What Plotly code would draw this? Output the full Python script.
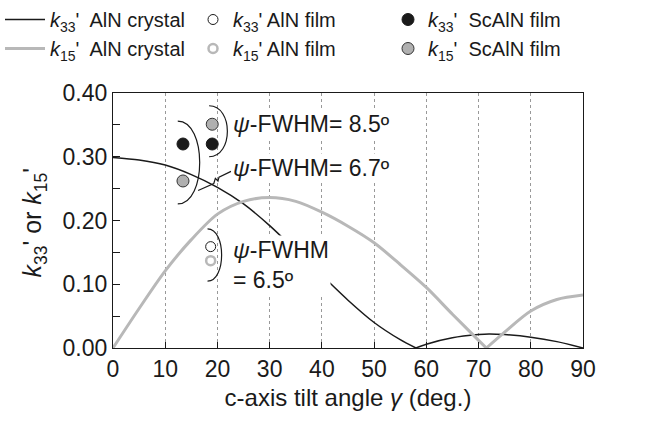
import plotly.graph_objects as go

# Bulk-crystal curves (c-axis tilt angle in degrees)
k33_angle = [0, 5, 10, 15, 20, 25, 30, 35, 40, 45, 50, 55, 58, 60, 65, 70, 72, 75, 80, 85, 90]
k33_crystal = [0.299, 0.295, 0.287, 0.272, 0.252, 0.226, 0.192, 0.153, 0.114, 0.075,
               0.040, 0.013, 0.0, 0.006, 0.016, 0.021, 0.022, 0.021, 0.017, 0.010, 0.0]

k15_angle = [0, 5, 10, 15, 20, 25, 30, 35, 40, 45, 50, 55, 60, 65, 70, 71.5, 75, 80, 85, 90]
k15_crystal = [0.0, 0.062, 0.121, 0.170, 0.210, 0.230, 0.236, 0.230, 0.213, 0.191,
               0.165, 0.131, 0.095, 0.053, 0.012, 0.0, 0.025, 0.058, 0.076, 0.083]

# Measured films
aln_film_angle = [18.7]
aln_film_k33 = [0.159]
aln_film_k15 = [0.137]

scaln_k33_angle = [13.4, 19.0]
scaln_k33 = [0.320, 0.320]
scaln_k15_angle = [19.0, 13.4]
scaln_k15 = [0.351, 0.262]

FONT = "Liberation Sans, Arial, Helvetica, sans-serif"
BLACK = "#1a1a1a"
GRAY_LINE = "#b8b8b8"
GRAY_FILL = "#b0b0b0"


def split_at_zeros(xs, ys):
    """Break a curve at its interior zeros so each lobe is smoothed on its own."""
    ox, oy = [], []
    for i, (x, y) in enumerate(zip(xs, ys)):
        ox.append(x)
        oy.append(y)
        if y == 0 and 0 < i < len(xs) - 1:
            ox += [None, x]
            oy += [None, y]
    return ox, oy


fig = go.Figure()

x33, y33 = split_at_zeros(k33_angle, k33_crystal)
x15, y15 = split_at_zeros(k15_angle, k15_crystal)

# column 1 of the key: crystal curves
fig.add_trace(go.Scatter(x=x33, y=y33, mode="lines", connectgaps=False, legend="legend",
                         line=dict(color=BLACK, width=1.5, shape="spline", smoothing=0.8),
                         name="<i>k</i><sub>33</sub>'  AlN crystal"))
fig.add_trace(go.Scatter(x=x15, y=y15, mode="lines", connectgaps=False, legend="legend",
                         line=dict(color=GRAY_LINE, width=3, shape="spline", smoothing=0.8),
                         name="<i>k</i><sub>15</sub>'  AlN crystal"))
# column 2: AlN films
fig.add_trace(go.Scatter(x=aln_film_angle, y=aln_film_k33, mode="markers", legend="legend2",
                         marker=dict(symbol="circle-open", size=10, color=BLACK, line=dict(width=1)),
                         name="<i>k</i><sub>33</sub>' AlN film"))
fig.add_trace(go.Scatter(x=aln_film_angle, y=aln_film_k15, mode="markers", legend="legend2",
                         marker=dict(symbol="circle-open", size=9, color=GRAY_LINE, line=dict(width=2.5)),
                         name="<i>k</i><sub>15</sub>' AlN film"))
# column 3: ScAlN films
fig.add_trace(go.Scatter(x=scaln_k33_angle, y=scaln_k33, mode="markers", legend="legend3",
                         marker=dict(symbol="circle", size=12, color=BLACK, line=dict(width=1, color=BLACK)),
                         name="<i>k</i><sub>33</sub>'  ScAlN film"))
fig.add_trace(go.Scatter(x=scaln_k15_angle, y=scaln_k15, mode="markers", legend="legend3",
                         marker=dict(symbol="circle", size=12, color=GRAY_FILL, line=dict(width=1, color="#333333")),
                         name="<i>k</i><sub>15</sub>'  ScAlN film"))


def bracket(x_end, y_top, y_bot, bulge):
    """')'-shaped bracket in data coordinates: ends at x_end, widest at x=bulge."""
    c = (bulge - x_end / 4) / 0.75
    return f"M {x_end},{y_top} C {c},{y_top} {c},{y_bot} {x_end},{y_bot}"


line_style = dict(color=BLACK, width=1.2)
shapes = [
    # ScAlN film pair at ~19 deg
    dict(type="path", xref="x", yref="y", line=line_style, path=bracket(18.4, 0.380, 0.300, 21.9)),
    # ScAlN film pair at ~13 deg
    dict(type="path", xref="x", yref="y", line=line_style, path=bracket(12.4, 0.356, 0.226, 16.6)),
    # AlN film pair
    dict(type="path", xref="x", yref="y", line=line_style, path=bracket(18.1, 0.187, 0.105, 20.8)),
    # leader with a small break mark from the 13-deg bracket to its label
    dict(type="path", xref="x", yref="y", line=line_style,
         path="M 16.3,0.247 L 19.3,0.258 L 19.6,0.266 L 20.1,0.262 L 20.3,0.268 L 22.6,0.277"),
]

ann_font = dict(family=FONT, size=23, color=BLACK)
annotations = [
    dict(x=22.6, y=0.352, xref="x", yref="y", xanchor="left", yanchor="middle",
         text="<i>ψ</i>-FWHM= 8.5º", showarrow=False, font=ann_font,
         bgcolor="white", borderpad=1),
    dict(x=22.6, y=0.282, xref="x", yref="y", xanchor="left", yanchor="middle",
         text="<i>ψ</i>-FWHM= 6.7º", showarrow=False, font=ann_font,
         bgcolor="white", borderpad=1),
    dict(x=22.6, y=0.130, xref="x", yref="y", xanchor="left", yanchor="middle",
         text="<i>ψ</i>-FWHM<br>= 6.5º", showarrow=False, font=ann_font, align="left",
         bgcolor="white", borderpad=1),
    # y-axis title
    dict(x=-0.167, y=0.49, xref="paper", yref="paper", xanchor="center", yanchor="middle",
         text="<i>k</i><sub>33</sub>' or <i>k</i><sub>15</sub>'", textangle=-90, showarrow=False,
         font=dict(family=FONT, size=25, color=BLACK)),
]

legend_common = dict(orientation="v", xref="container", yref="container", yanchor="top",
                     xanchor="left", y=1.0, font=dict(family=FONT, size=20, color=BLACK),
                     tracegroupgap=0, bgcolor="rgba(0,0,0,0)", borderwidth=0)

fig.update_layout(
    width=668, height=421,
    margin=dict(l=113, r=85, t=93, b=73, autoexpand=False),
    paper_bgcolor="white", plot_bgcolor="white",
    font=dict(family=FONT, size=22, color=BLACK),
    shapes=shapes,
    annotations=annotations,
    showlegend=True,
    legend=dict(legend_common, x=0.0, itemwidth=40),
    legend2=dict(legend_common, x=193 / 668, itemwidth=30),
    legend3=dict(legend_common, x=388 / 668, itemwidth=30),
)

fig.update_xaxes(
    range=[0, 90], dtick=10, tick0=0,
    showline=True, linecolor=BLACK, linewidth=1.3, mirror=True,
    ticks="inside", ticklen=6, tickcolor=BLACK, tickwidth=1.2,
    showgrid=True, gridcolor="#999999", griddash="dot", gridwidth=1,
    zeroline=False,
    tickfont=dict(family=FONT, size=23, color=BLACK),
    title=dict(text="c-axis tilt angle <i>γ</i> (deg.)", font=dict(family=FONT, size=24, color=BLACK),
               standoff=8),
)
fig.update_yaxes(
    range=[0, 0.40], dtick=0.1, tick0=0, tickformat=".2f",
    showline=True, linecolor=BLACK, linewidth=1.3, mirror=True,
    ticks="inside", ticklen=7, tickcolor=BLACK, tickwidth=1.2,
    minor=dict(dtick=0.05, ticks="inside", ticklen=7, tickcolor=BLACK, showgrid=False),
    showgrid=False, zeroline=False,
    tickfont=dict(family=FONT, size=23, color=BLACK),
)

fig.write_html("out.html")
